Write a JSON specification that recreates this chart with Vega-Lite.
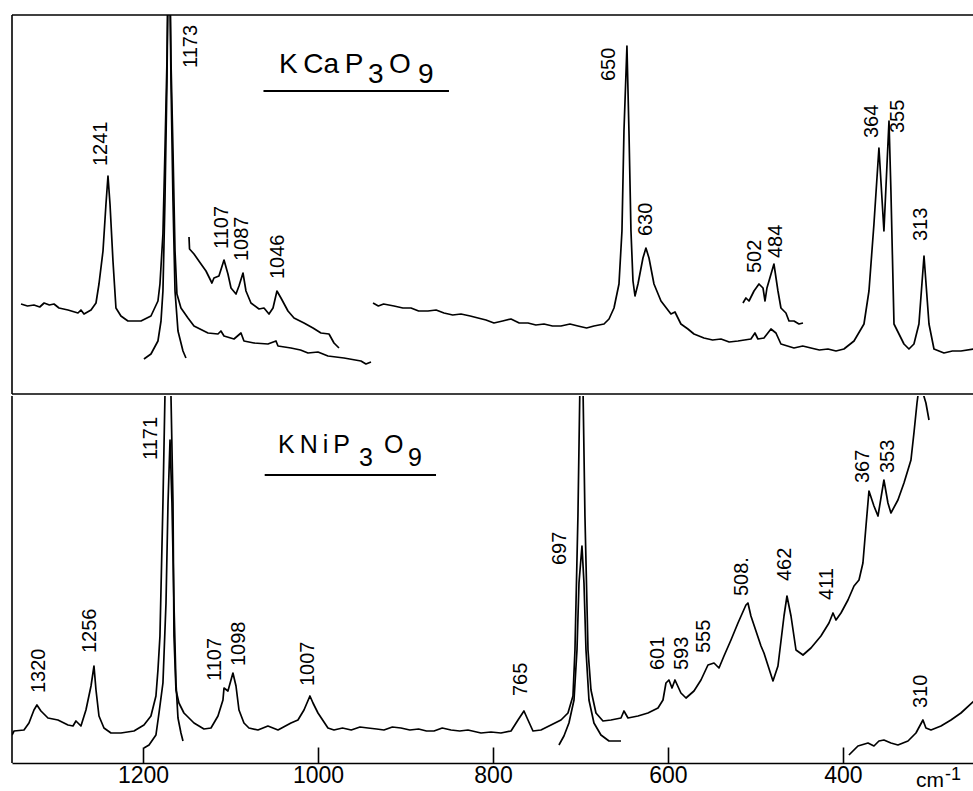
{
  "$schema": "https://vega.github.io/schema/vega-lite/v6.json",
  "background": "white",
  "padding": {"left": 11, "top": 14, "right": 0, "bottom": 0},
  "spacing": 0,
  "config": {"view": {"stroke": null}, "text": {"font": "Liberation Sans", "color": "black"}},
  "datasets": {
    "spectra": [
      {"panel":"top","trace":"T1","wn":1339.4,"int":90},{"panel":"top","trace":"T1","wn":1332,"int":88},{"panel":"top","trace":"T1","wn":1324.6,"int":89},{"panel":"top","trace":"T1","wn":1318,"int":87},{"panel":"top","trace":"T1","wn":1313,"int":91},{"panel":"top","trace":"T1","wn":1307,"int":89},{"panel":"top","trace":"T1","wn":1301.7,"int":90},{"panel":"top","trace":"T1","wn":1296.0,"int":86},{"panel":"top","trace":"T1","wn":1285.7,"int":84},{"panel":"top","trace":"T1","wn":1274.3,"int":81},{"panel":"top","trace":"T1","wn":1270.9,"int":84},{"panel":"top","trace":"T1","wn":1267.4,"int":80},{"panel":"top","trace":"T1","wn":1259.4,"int":84},{"panel":"top","trace":"T1","wn":1253.7,"int":91},{"panel":"top","trace":"T1","wn":1250.3,"int":110},{"panel":"top","trace":"T1","wn":1245.7,"int":143},{"panel":"top","trace":"T1","wn":1242.3,"int":190},{"panel":"top","trace":"T1","wn":1240.0,"int":218},{"panel":"top","trace":"T1","wn":1237.7,"int":190},{"panel":"top","trace":"T1","wn":1234.3,"int":133},{"panel":"top","trace":"T1","wn":1230.9,"int":86},{"panel":"top","trace":"T1","wn":1225.2,"int":78},{"panel":"top","trace":"T1","wn":1217.2,"int":73},{"panel":"top","trace":"T1","wn":1202.3,"int":73},{"panel":"top","trace":"T1","wn":1190.9,"int":78},{"panel":"top","trace":"T1","wn":1182.9,"int":93},{"panel":"top","trace":"T1","wn":1180.6,"int":110},{"panel":"top","trace":"T1","wn":1177.2,"int":160},{"panel":"top","trace":"T1","wn":1174.9,"int":243},{"panel":"top","trace":"T1","wn":1172.6,"int":333},{"panel":"top","trace":"T1","wn":1170.3,"int":493},{"panel":"top","trace":"T1","wn":1168.0,"int":333},{"panel":"top","trace":"T1","wn":1165.7,"int":243},{"panel":"top","trace":"T1","wn":1163.4,"int":143},{"panel":"top","trace":"T1","wn":1161.2,"int":100},{"panel":"top","trace":"T1","wn":1156.6,"int":86},{"panel":"top","trace":"T1","wn":1148.6,"int":76},{"panel":"top","trace":"T1","wn":1141.7,"int":68},{"panel":"top","trace":"T1","wn":1125.7,"int":61},{"panel":"top","trace":"T1","wn":1114.3,"int":60},{"panel":"top","trace":"T1","wn":1110.9,"int":63},{"panel":"top","trace":"T1","wn":1107.4,"int":58},{"panel":"top","trace":"T1","wn":1096.0,"int":55},{"panel":"top","trace":"T1","wn":1088.0,"int":61},{"panel":"top","trace":"T1","wn":1084.6,"int":53},{"panel":"top","trace":"T1","wn":1073.2,"int":51},{"panel":"top","trace":"T1","wn":1057.2,"int":50},{"panel":"top","trace":"T1","wn":1048.0,"int":53},{"panel":"top","trace":"T1","wn":1045.7,"int":48},{"panel":"top","trace":"T1","wn":1030.9,"int":46},{"panel":"top","trace":"T1","wn":1020,"int":44},{"panel":"top","trace":"T1","wn":1011.4,"int":41},{"panel":"top","trace":"T1","wn":1000,"int":42},{"panel":"top","trace":"T1","wn":988.6,"int":38},{"panel":"top","trace":"T1","wn":970.3,"int":36},{"panel":"top","trace":"T1","wn":950.9,"int":33},{"panel":"top","trace":"T1","wn":945.2,"int":30},{"panel":"top","trace":"T1","wn":939.4,"int":32},
      {"panel":"top","trace":"T2","wn":1198.9,"int":35},{"panel":"top","trace":"T2","wn":1190.9,"int":40},{"panel":"top","trace":"T2","wn":1182.9,"int":53},{"panel":"top","trace":"T2","wn":1179.4,"int":73},{"panel":"top","trace":"T2","wn":1177.2,"int":103},{"panel":"top","trace":"T2","wn":1174.9,"int":193},{"panel":"top","trace":"T2","wn":1172.6,"int":313},{"panel":"top","trace":"T2","wn":1170.3,"int":493},{"panel":"top","trace":"T2","wn":1168.0,"int":313},{"panel":"top","trace":"T2","wn":1165.7,"int":193},{"panel":"top","trace":"T2","wn":1163.4,"int":103},{"panel":"top","trace":"T2","wn":1160.0,"int":63},{"panel":"top","trace":"T2","wn":1154.3,"int":43},{"panel":"top","trace":"T2","wn":1150.9,"int":36},
      {"panel":"top","trace":"T3","wn":1147.4,"int":157},{"panel":"top","trace":"T3","wn":1146.8,"int":145},{"panel":"top","trace":"T3","wn":1141.7,"int":140},{"panel":"top","trace":"T3","wn":1133.7,"int":130},{"panel":"top","trace":"T3","wn":1128.0,"int":123},{"panel":"top","trace":"T3","wn":1121.2,"int":111},{"panel":"top","trace":"T3","wn":1118.9,"int":116},{"panel":"top","trace":"T3","wn":1113.2,"int":118},{"panel":"top","trace":"T3","wn":1107.4,"int":134},{"panel":"top","trace":"T3","wn":1102.9,"int":120},{"panel":"top","trace":"T3","wn":1099.4,"int":106},{"panel":"top","trace":"T3","wn":1093.7,"int":100},{"panel":"top","trace":"T3","wn":1090.3,"int":108},{"panel":"top","trace":"T3","wn":1085.7,"int":121},{"panel":"top","trace":"T3","wn":1082.3,"int":103},{"panel":"top","trace":"T3","wn":1076.6,"int":91},{"panel":"top","trace":"T3","wn":1067.4,"int":85},{"panel":"top","trace":"T3","wn":1061.7,"int":86},{"panel":"top","trace":"T3","wn":1056.0,"int":80},{"panel":"top","trace":"T3","wn":1051.4,"int":86},{"panel":"top","trace":"T3","wn":1046.9,"int":103},{"panel":"top","trace":"T3","wn":1042.3,"int":96},{"panel":"top","trace":"T3","wn":1034.3,"int":83},{"panel":"top","trace":"T3","wn":1027.4,"int":76},{"panel":"top","trace":"T3","wn":1016.0,"int":71},{"panel":"top","trace":"T3","wn":1005.7,"int":66},{"panel":"top","trace":"T3","wn":996.6,"int":61},{"panel":"top","trace":"T3","wn":987.4,"int":60},{"panel":"top","trace":"T3","wn":981.7,"int":51},{"panel":"top","trace":"T3","wn":976.0,"int":46},
      {"panel":"top","trace":"T4","wn":937.1,"int":91},{"panel":"top","trace":"T4","wn":931,"int":88},{"panel":"top","trace":"T4","wn":925,"int":90},{"panel":"top","trace":"T4","wn":913.1,"int":88},{"panel":"top","trace":"T4","wn":903,"int":86},{"panel":"top","trace":"T4","wn":893.7,"int":86},{"panel":"top","trace":"T4","wn":885,"int":83},{"panel":"top","trace":"T4","wn":874.3,"int":83},{"panel":"top","trace":"T4","wn":865,"int":84},{"panel":"top","trace":"T4","wn":856.0,"int":81},{"panel":"top","trace":"T4","wn":846,"int":79},{"panel":"top","trace":"T4","wn":836.6,"int":80},{"panel":"top","trace":"T4","wn":826,"int":78},{"panel":"top","trace":"T4","wn":817.1,"int":76},{"panel":"top","trace":"T4","wn":808,"int":74},{"panel":"top","trace":"T4","wn":798.9,"int":71},{"panel":"top","trace":"T4","wn":789,"int":73},{"panel":"top","trace":"T4","wn":779.4,"int":75},{"panel":"top","trace":"T4","wn":770,"int":71},{"panel":"top","trace":"T4","wn":760.0,"int":71},{"panel":"top","trace":"T4","wn":751,"int":69},{"panel":"top","trace":"T4","wn":741.7,"int":70},{"panel":"top","trace":"T4","wn":732,"int":68},{"panel":"top","trace":"T4","wn":722.3,"int":68},{"panel":"top","trace":"T4","wn":712,"int":70},{"panel":"top","trace":"T4","wn":702.9,"int":68},{"panel":"top","trace":"T4","wn":693,"int":66},{"panel":"top","trace":"T4","wn":684.6,"int":68},{"panel":"top","trace":"T4","wn":673.1,"int":70},{"panel":"top","trace":"T4","wn":667.4,"int":75},{"panel":"top","trace":"T4","wn":661.7,"int":86},{"panel":"top","trace":"T4","wn":656.0,"int":110},{"panel":"top","trace":"T4","wn":652.6,"int":163},{"panel":"top","trace":"T4","wn":650.3,"int":263},{"panel":"top","trace":"T4","wn":646.9,"int":348},{"panel":"top","trace":"T4","wn":644.6,"int":263},{"panel":"top","trace":"T4","wn":642.3,"int":163},{"panel":"top","trace":"T4","wn":640.0,"int":113},{"panel":"top","trace":"T4","wn":637.7,"int":98},{"panel":"top","trace":"T4","wn":634.3,"int":110},{"panel":"top","trace":"T4","wn":628.6,"int":136},{"panel":"top","trace":"T4","wn":625.2,"int":146},{"panel":"top","trace":"T4","wn":621.7,"int":136},{"panel":"top","trace":"T4","wn":616.0,"int":110},{"panel":"top","trace":"T4","wn":608.0,"int":93},{"panel":"top","trace":"T4","wn":596.6,"int":80},{"panel":"top","trace":"T4","wn":592,"int":82},{"panel":"top","trace":"T4","wn":585.2,"int":70},{"panel":"top","trace":"T4","wn":577.2,"int":65},{"panel":"top","trace":"T4","wn":570.3,"int":60},{"panel":"top","trace":"T4","wn":558.9,"int":56},{"panel":"top","trace":"T4","wn":549,"int":54},{"panel":"top","trace":"T4","wn":539.4,"int":55},{"panel":"top","trace":"T4","wn":530,"int":52},{"panel":"top","trace":"T4","wn":520.0,"int":53},{"panel":"top","trace":"T4","wn":505.2,"int":55},{"panel":"top","trace":"T4","wn":500.6,"int":61},{"panel":"top","trace":"T4","wn":497.2,"int":55},{"panel":"top","trace":"T4","wn":490.3,"int":56},{"panel":"top","trace":"T4","wn":482.3,"int":65},{"panel":"top","trace":"T4","wn":476.6,"int":61},{"panel":"top","trace":"T4","wn":470.9,"int":50},{"panel":"top","trace":"T4","wn":456.0,"int":46},{"panel":"top","trace":"T4","wn":446,"int":48},{"panel":"top","trace":"T4","wn":436.6,"int":46},{"panel":"top","trace":"T4","wn":427,"int":44},{"panel":"top","trace":"T4","wn":417.2,"int":45},{"panel":"top","trace":"T4","wn":408,"int":43},{"panel":"top","trace":"T4","wn":398.9,"int":45},{"panel":"top","trace":"T4","wn":387.4,"int":53},{"panel":"top","trace":"T4","wn":376.0,"int":70},{"panel":"top","trace":"T4","wn":370.3,"int":103},{"panel":"top","trace":"T4","wn":364.6,"int":170},{"panel":"top","trace":"T4","wn":358.9,"int":246},{"panel":"top","trace":"T4","wn":353.2,"int":163},{"panel":"top","trace":"T4","wn":347.4,"int":273},{"panel":"top","trace":"T4","wn":345.2,"int":203},{"panel":"top","trace":"T4","wn":341.7,"int":70},{"panel":"top","trace":"T4","wn":336.0,"int":60},{"panel":"top","trace":"T4","wn":330.3,"int":50},{"panel":"top","trace":"T4","wn":324.6,"int":45},{"panel":"top","trace":"T4","wn":318.9,"int":50},{"panel":"top","trace":"T4","wn":313.2,"int":70},{"panel":"top","trace":"T4","wn":307.4,"int":138},{"panel":"top","trace":"T4","wn":301.7,"int":70},{"panel":"top","trace":"T4","wn":296.0,"int":45},{"panel":"top","trace":"T4","wn":284.6,"int":41},{"panel":"top","trace":"T4","wn":275,"int":43},{"panel":"top","trace":"T4","wn":265.2,"int":43},{"panel":"top","trace":"T4","wn":250.3,"int":45},
      {"panel":"top","trace":"T5","wn":514.3,"int":91},{"panel":"top","trace":"T5","wn":510.9,"int":96},{"panel":"top","trace":"T5","wn":507.4,"int":93},{"panel":"top","trace":"T5","wn":501.7,"int":103},{"panel":"top","trace":"T5","wn":496.0,"int":110},{"panel":"top","trace":"T5","wn":491.4,"int":106},{"panel":"top","trace":"T5","wn":489.1,"int":93},{"panel":"top","trace":"T5","wn":486.9,"int":106},{"panel":"top","trace":"T5","wn":478.9,"int":130},{"panel":"top","trace":"T5","wn":474.3,"int":103},{"panel":"top","trace":"T5","wn":470.9,"int":86},{"panel":"top","trace":"T5","wn":465.2,"int":81},{"panel":"top","trace":"T5","wn":461.7,"int":73},{"panel":"top","trace":"T5","wn":456.0,"int":73},{"panel":"top","trace":"T5","wn":450.3,"int":70},{"panel":"top","trace":"T5","wn":445.7,"int":71},
      {"panel":"bottom","trace":"B1","wn":1349.7,"int":28},{"panel":"bottom","trace":"B1","wn":1347.4,"int":32},{"panel":"bottom","trace":"B1","wn":1336.0,"int":33},{"panel":"bottom","trace":"B1","wn":1330.3,"int":40},{"panel":"bottom","trace":"B1","wn":1324.6,"int":53},{"panel":"bottom","trace":"B1","wn":1321.2,"int":58},{"panel":"bottom","trace":"B1","wn":1316.6,"int":52},{"panel":"bottom","trace":"B1","wn":1308.6,"int":45},{"panel":"bottom","trace":"B1","wn":1297.2,"int":43},{"panel":"bottom","trace":"B1","wn":1285.7,"int":38},{"panel":"bottom","trace":"B1","wn":1280.0,"int":37},{"panel":"bottom","trace":"B1","wn":1276.6,"int":42},{"panel":"bottom","trace":"B1","wn":1270.9,"int":37},{"panel":"bottom","trace":"B1","wn":1265.2,"int":53},{"panel":"bottom","trace":"B1","wn":1259.4,"int":77},{"panel":"bottom","trace":"B1","wn":1256.0,"int":97},{"panel":"bottom","trace":"B1","wn":1253.7,"int":73},{"panel":"bottom","trace":"B1","wn":1250.3,"int":47},{"panel":"bottom","trace":"B1","wn":1244.6,"int":35},{"panel":"bottom","trace":"B1","wn":1236.6,"int":30},{"panel":"bottom","trace":"B1","wn":1225.2,"int":30},{"panel":"bottom","trace":"B1","wn":1210.3,"int":32},{"panel":"bottom","trace":"B1","wn":1198.9,"int":38},{"panel":"bottom","trace":"B1","wn":1190.9,"int":47},{"panel":"bottom","trace":"B1","wn":1185.2,"int":67},{"panel":"bottom","trace":"B1","wn":1182.9,"int":93},{"panel":"bottom","trace":"B1","wn":1180.6,"int":127},{"panel":"bottom","trace":"B1","wn":1177.2,"int":260},{"panel":"bottom","trace":"B1","wn":1174.9,"int":367},{"panel":"bottom","trace":"B1","wn":1171.4,"int":560},{"panel":"bottom","trace":"B1","wn":1168.0,"int":367},{"panel":"bottom","trace":"B1","wn":1165.7,"int":260},{"panel":"bottom","trace":"B1","wn":1164.6,"int":127},{"panel":"bottom","trace":"B1","wn":1162.3,"int":73},{"panel":"bottom","trace":"B1","wn":1158.9,"int":60},{"panel":"bottom","trace":"B1","wn":1153.2,"int":50},{"panel":"bottom","trace":"B1","wn":1141.7,"int":40},{"panel":"bottom","trace":"B1","wn":1130.3,"int":34},{"panel":"bottom","trace":"B1","wn":1122.3,"int":35},{"panel":"bottom","trace":"B1","wn":1114.3,"int":47},{"panel":"bottom","trace":"B1","wn":1108.6,"int":63},{"panel":"bottom","trace":"B1","wn":1107.4,"int":75},{"panel":"bottom","trace":"B1","wn":1102.9,"int":72},{"panel":"bottom","trace":"B1","wn":1097.2,"int":90},{"panel":"bottom","trace":"B1","wn":1093.7,"int":77},{"panel":"bottom","trace":"B1","wn":1090.3,"int":53},{"panel":"bottom","trace":"B1","wn":1084.6,"int":40},{"panel":"bottom","trace":"B1","wn":1078.9,"int":35},{"panel":"bottom","trace":"B1","wn":1068.6,"int":33},{"panel":"bottom","trace":"B1","wn":1057.2,"int":37},{"panel":"bottom","trace":"B1","wn":1045.7,"int":33},{"panel":"bottom","trace":"B1","wn":1030.9,"int":40},{"panel":"bottom","trace":"B1","wn":1022.9,"int":43},{"panel":"bottom","trace":"B1","wn":1016.0,"int":53},{"panel":"bottom","trace":"B1","wn":1009.2,"int":67},{"panel":"bottom","trace":"B1","wn":1005.7,"int":60},{"panel":"bottom","trace":"B1","wn":1000.0,"int":50},{"panel":"bottom","trace":"B1","wn":988.6,"int":35},{"panel":"bottom","trace":"B1","wn":981.7,"int":33},{"panel":"bottom","trace":"B1","wn":972,"int":35},{"panel":"bottom","trace":"B1","wn":962,"int":33},{"panel":"bottom","trace":"B1","wn":952,"int":36},{"panel":"bottom","trace":"B1","wn":942.9,"int":35},{"panel":"bottom","trace":"B1","wn":933,"int":34},{"panel":"bottom","trace":"B1","wn":924.6,"int":33},{"panel":"bottom","trace":"B1","wn":915,"int":36},{"panel":"bottom","trace":"B1","wn":905.2,"int":35},{"panel":"bottom","trace":"B1","wn":895,"int":33},{"panel":"bottom","trace":"B1","wn":885,"int":34},{"panel":"bottom","trace":"B1","wn":876,"int":32},{"panel":"bottom","trace":"B1","wn":867.4,"int":32},{"panel":"bottom","trace":"B1","wn":858,"int":35},{"panel":"bottom","trace":"B1","wn":848,"int":33},{"panel":"bottom","trace":"B1","wn":838,"int":32},{"panel":"bottom","trace":"B1","wn":828.6,"int":33},{"panel":"bottom","trace":"B1","wn":813.7,"int":30},{"panel":"bottom","trace":"B1","wn":802.3,"int":31},{"panel":"bottom","trace":"B1","wn":790.9,"int":30},{"panel":"bottom","trace":"B1","wn":779.4,"int":32},{"panel":"bottom","trace":"B1","wn":771.4,"int":43},{"panel":"bottom","trace":"B1","wn":764.6,"int":52},{"panel":"bottom","trace":"B1","wn":760.0,"int":43},{"panel":"bottom","trace":"B1","wn":754.3,"int":32},{"panel":"bottom","trace":"B1","wn":745.2,"int":33},{"panel":"bottom","trace":"B1","wn":733.7,"int":38},{"panel":"bottom","trace":"B1","wn":722.3,"int":43},{"panel":"bottom","trace":"B1","wn":714.3,"int":50},{"panel":"bottom","trace":"B1","wn":708.6,"int":67},{"panel":"bottom","trace":"B1","wn":706.3,"int":113},{"panel":"bottom","trace":"B1","wn":702.9,"int":247},{"panel":"bottom","trace":"B1","wn":700.6,"int":380},{"panel":"bottom","trace":"B1","wn":699.0,"int":420},{"panel":"bottom","trace":"B1","wn":697.2,"int":380},{"panel":"bottom","trace":"B1","wn":694.9,"int":247},{"panel":"bottom","trace":"B1","wn":691.4,"int":113},{"panel":"bottom","trace":"B1","wn":688.0,"int":73},{"panel":"bottom","trace":"B1","wn":682.3,"int":50},{"panel":"bottom","trace":"B1","wn":674.3,"int":42},{"panel":"bottom","trace":"B1","wn":665.2,"int":43},{"panel":"bottom","trace":"B1","wn":653.7,"int":45},{"panel":"bottom","trace":"B1","wn":650.3,"int":52},{"panel":"bottom","trace":"B1","wn":645.7,"int":45},{"panel":"bottom","trace":"B1","wn":634.3,"int":47},{"panel":"bottom","trace":"B1","wn":622.9,"int":50},{"panel":"bottom","trace":"B1","wn":611.4,"int":55},{"panel":"bottom","trace":"B1","wn":605.7,"int":63},{"panel":"bottom","trace":"B1","wn":602.3,"int":80},{"panel":"bottom","trace":"B1","wn":598.9,"int":83},{"panel":"bottom","trace":"B1","wn":595.4,"int":75},{"panel":"bottom","trace":"B1","wn":592.0,"int":83},{"panel":"bottom","trace":"B1","wn":585.2,"int":70},{"panel":"bottom","trace":"B1","wn":579.4,"int":65},{"panel":"bottom","trace":"B1","wn":570.3,"int":72},{"panel":"bottom","trace":"B1","wn":562.3,"int":83},{"panel":"bottom","trace":"B1","wn":554.3,"int":98},{"panel":"bottom","trace":"B1","wn":547.4,"int":100},{"panel":"bottom","trace":"B1","wn":541.7,"int":95},{"panel":"bottom","trace":"B1","wn":536.0,"int":107},{"panel":"bottom","trace":"B1","wn":528.0,"int":123},{"panel":"bottom","trace":"B1","wn":520.0,"int":140},{"panel":"bottom","trace":"B1","wn":510.9,"int":158},{"panel":"bottom","trace":"B1","wn":508.6,"int":160},{"panel":"bottom","trace":"B1","wn":505.2,"int":147},{"panel":"bottom","trace":"B1","wn":493.7,"int":117},{"panel":"bottom","trace":"B1","wn":490.3,"int":110},{"panel":"bottom","trace":"B1","wn":480.0,"int":82},{"panel":"bottom","trace":"B1","wn":474.3,"int":97},{"panel":"bottom","trace":"B1","wn":467.4,"int":147},{"panel":"bottom","trace":"B1","wn":464.0,"int":167},{"panel":"bottom","trace":"B1","wn":459.4,"int":147},{"panel":"bottom","trace":"B1","wn":453.7,"int":113},{"panel":"bottom","trace":"B1","wn":445.7,"int":108},{"panel":"bottom","trace":"B1","wn":436.6,"int":115},{"panel":"bottom","trace":"B1","wn":425.2,"int":127},{"panel":"bottom","trace":"B1","wn":416.0,"int":140},{"panel":"bottom","trace":"B1","wn":411.4,"int":150},{"panel":"bottom","trace":"B1","wn":408.0,"int":143},{"panel":"bottom","trace":"B1","wn":402.3,"int":150},{"panel":"bottom","trace":"B1","wn":394.3,"int":163},{"panel":"bottom","trace":"B1","wn":387.4,"int":177},{"panel":"bottom","trace":"B1","wn":381.7,"int":183},{"panel":"bottom","trace":"B1","wn":377.2,"int":200},{"panel":"bottom","trace":"B1","wn":373.7,"int":237},{"panel":"bottom","trace":"B1","wn":370.3,"int":272},{"panel":"bottom","trace":"B1","wn":364.6,"int":257},{"panel":"bottom","trace":"B1","wn":360.0,"int":247},{"panel":"bottom","trace":"B1","wn":353.2,"int":283},{"panel":"bottom","trace":"B1","wn":348.6,"int":260},{"panel":"bottom","trace":"B1","wn":345.2,"int":250},{"panel":"bottom","trace":"B1","wn":337.2,"int":263},{"panel":"bottom","trace":"B1","wn":330.3,"int":280},{"panel":"bottom","trace":"B1","wn":322.3,"int":303},{"panel":"bottom","trace":"B1","wn":318.9,"int":330},{"panel":"bottom","trace":"B1","wn":315.4,"int":360},{"panel":"bottom","trace":"B1","wn":313.2,"int":375},{"panel":"bottom","trace":"B1","wn":308.6,"int":370},{"panel":"bottom","trace":"B1","wn":305.2,"int":360},{"panel":"bottom","trace":"B1","wn":301.7,"int":343},
      {"panel":"bottom","trace":"B2","wn":1198.9,"int":15},{"panel":"bottom","trace":"B2","wn":1193.1,"int":18},{"panel":"bottom","trace":"B2","wn":1185.2,"int":28},{"panel":"bottom","trace":"B2","wn":1181.7,"int":50},{"panel":"bottom","trace":"B2","wn":1177.2,"int":80},{"panel":"bottom","trace":"B2","wn":1173.7,"int":160},{"panel":"bottom","trace":"B2","wn":1171.4,"int":260},{"panel":"bottom","trace":"B2","wn":1169.1,"int":323},{"panel":"bottom","trace":"B2","wn":1166.9,"int":260},{"panel":"bottom","trace":"B2","wn":1164.6,"int":160},{"panel":"bottom","trace":"B2","wn":1162.3,"int":80},{"panel":"bottom","trace":"B2","wn":1160.0,"int":45},{"panel":"bottom","trace":"B2","wn":1156.6,"int":30},{"panel":"bottom","trace":"B2","wn":1154.3,"int":22},
      {"panel":"bottom","trace":"B3","wn":724.6,"int":18},{"panel":"bottom","trace":"B3","wn":718.9,"int":27},{"panel":"bottom","trace":"B3","wn":713.2,"int":40},{"panel":"bottom","trace":"B3","wn":707.4,"int":63},{"panel":"bottom","trace":"B3","wn":704.0,"int":113},{"panel":"bottom","trace":"B3","wn":701.7,"int":180},{"panel":"bottom","trace":"B3","wn":698.3,"int":217},{"panel":"bottom","trace":"B3","wn":696.0,"int":180},{"panel":"bottom","trace":"B3","wn":693.7,"int":113},{"panel":"bottom","trace":"B3","wn":690.3,"int":63},{"panel":"bottom","trace":"B3","wn":684.6,"int":40},{"panel":"bottom","trace":"B3","wn":676.6,"int":28},{"panel":"bottom","trace":"B3","wn":667.4,"int":22},{"panel":"bottom","trace":"B3","wn":653.7,"int":22},
      {"panel":"bottom","trace":"B4","wn":393.2,"int":8},{"panel":"bottom","trace":"B4","wn":382.9,"int":17},{"panel":"bottom","trace":"B4","wn":371.4,"int":20},{"panel":"bottom","trace":"B4","wn":364.6,"int":17},{"panel":"bottom","trace":"B4","wn":358.9,"int":22},{"panel":"bottom","trace":"B4","wn":353.2,"int":23},{"panel":"bottom","trace":"B4","wn":345.2,"int":20},{"panel":"bottom","trace":"B4","wn":337.2,"int":18},{"panel":"bottom","trace":"B4","wn":325.7,"int":22},{"panel":"bottom","trace":"B4","wn":316.6,"int":30},{"panel":"bottom","trace":"B4","wn":308.6,"int":43},{"panel":"bottom","trace":"B4","wn":305.2,"int":35},{"panel":"bottom","trace":"B4","wn":299.4,"int":33},{"panel":"bottom","trace":"B4","wn":288.0,"int":37},{"panel":"bottom","trace":"B4","wn":276.6,"int":43},{"panel":"bottom","trace":"B4","wn":265.2,"int":50},{"panel":"bottom","trace":"B4","wn":250.3,"int":62}
    ],
    "labels": [
      {"panel":"top","label":"1173","wn":1145.1,"int":326},{"panel":"top","label":"1241","wn":1248.0,"int":228},{"panel":"top","label":"1107","wn":1109.7,"int":145},{"panel":"top","label":"1087","wn":1086.9,"int":133},{"panel":"top","label":"1046","wn":1045.7,"int":115},{"panel":"top","label":"650","wn":667.4,"int":313},{"panel":"top","label":"630","wn":625.1,"int":158},{"panel":"top","label":"502","wn":500.6,"int":121},{"panel":"top","label":"484","wn":476.6,"int":136},{"panel":"top","label":"364","wn":366.9,"int":256},{"panel":"top","label":"355","wn":337.1,"int":261},{"panel":"top","label":"313","wn":310.9,"int":153},
      {"panel":"bottom","label":"1171","wn":1190.9,"int":303},{"panel":"bottom","label":"1320","wn":1318.9,"int":70},{"panel":"bottom","label":"1256","wn":1260.6,"int":110},{"panel":"bottom","label":"1107","wn":1117.7,"int":82},{"panel":"bottom","label":"1098","wn":1090.3,"int":97},{"panel":"bottom","label":"1007","wn":1011.4,"int":77},{"panel":"bottom","label":"765","wn":768.0,"int":67},{"panel":"bottom","label":"697","wn":723.4,"int":198},{"panel":"bottom","label":"601","wn":611.4,"int":93},{"panel":"bottom","label":"593","wn":584.0,"int":93},{"panel":"bottom","label":"555","wn":558.9,"int":110},{"panel":"bottom","label":"508.","wn":515.4,"int":167},{"panel":"bottom","label":"462","wn":466.3,"int":182},{"panel":"bottom","label":"411","wn":418.3,"int":163},{"panel":"bottom","label":"367","wn":377.1,"int":280},{"panel":"bottom","label":"353","wn":348.6,"int":290},{"panel":"bottom","label":"310","wn":310.9,"int":55}
    ]
  },
  "vconcat": [
    {
      "width": 961,
      "height": 379,
      "layer": [
        {
          "data": {"name": "spectra"},
          "transform": [{"filter": "datum.panel == 'top'"}],
          "mark": {"type": "line", "clip": true, "color": "black", "strokeWidth": 1.7, "strokeJoin": "round"},
          "encoding": {
            "x": {"field": "wn", "type": "quantitative", "scale": {"domain": [251.4, 1349.7], "reverse": true, "nice": false, "zero": false}, "axis": null},
            "y": {"field": "int", "type": "quantitative", "scale": {"domain": [0, 379], "nice": false, "zero": false}, "axis": null},
            "detail": {"field": "trace"}
          }
        },
        {
          "data": {"name": "labels"},
          "transform": [{"filter": "datum.panel == 'top'"}],
          "mark": {"type": "text", "angle": 270, "align": "left", "baseline": "middle", "fontSize": 20},
          "encoding": {
            "x": {"field": "wn", "type": "quantitative", "axis": null},
            "y": {"field": "int", "type": "quantitative", "axis": null},
            "text": {"field": "label"}
          }
        },
        {
          "data": {"values": [{}]},
          "mark": {"type": "text", "align": "left", "baseline": "alphabetic", "fontSize": 28, "text": "K\u2009Ca\u2009P"},
          "encoding": {"x": {"datum": 1044.6, "type": "quantitative", "axis": null}, "y": {"datum": 321, "type": "quantitative", "axis": null}}
        },
        {
          "data": {"values": [{}]},
          "mark": {"type": "text", "align": "left", "baseline": "alphabetic", "fontSize": 28, "text": "3"},
          "encoding": {"x": {"datum": 942.9, "type": "quantitative", "axis": null}, "y": {"datum": 311, "type": "quantitative", "axis": null}}
        },
        {
          "data": {"values": [{}]},
          "mark": {"type": "text", "align": "left", "baseline": "alphabetic", "fontSize": 28, "text": "O"},
          "encoding": {"x": {"datum": 918.9, "type": "quantitative", "axis": null}, "y": {"datum": 321, "type": "quantitative", "axis": null}}
        },
        {
          "data": {"values": [{}]},
          "mark": {"type": "text", "align": "left", "baseline": "alphabetic", "fontSize": 28, "text": "9"},
          "encoding": {"x": {"datum": 885.7, "type": "quantitative", "axis": null}, "y": {"datum": 311, "type": "quantitative", "axis": null}}
        },
        {
          "data": {"values": [{}]},
          "mark": {"type": "rule", "color": "black", "strokeWidth": 2},
          "encoding": {"x": {"datum": 1062.3, "type": "quantitative", "axis": null}, "x2": {"datum": 850.3}, "y": {"datum": 303, "type": "quantitative", "axis": null}}
        },
        {
          "data": {"values": [{}]},
          "mark": {"type": "rule", "color": "black", "strokeWidth": 1.6},
          "encoding": {"y": {"datum": 379, "type": "quantitative", "axis": null}}
        },
        {
          "data": {"values": [{}]},
          "mark": {"type": "rule", "color": "black", "strokeWidth": 1.6},
          "encoding": {"y": {"datum": 0, "type": "quantitative", "axis": null}}
        },
        {
          "data": {"values": [{}]},
          "mark": {"type": "rule", "color": "black", "strokeWidth": 1.6},
          "encoding": {"x": {"datum": 1349.7, "type": "quantitative", "axis": null}}
        }
      ]
    },
    {
      "width": 961,
      "height": 367,
      "encoding": {
        "x": {
          "type": "quantitative",
          "scale": {"domain": [251.4, 1349.7], "reverse": true, "nice": false, "zero": false},
          "axis": {
            "values": [1200, 1000, 800, 600, 400],
            "format": "d",
            "grid": false,
            "domain": true, "domainColor": "black", "domainWidth": 1.6,
            "ticks": true, "tickSize": -16, "tickColor": "black", "tickWidth": 1.6,
            "labelFont": "Liberation Sans", "labelFontSize": 23, "labelColor": "black", "labelPadding": 17,
            "title": null
          }
        },
        "y": {"type": "quantitative", "scale": {"domain": [0, 367], "nice": false, "zero": false}, "axis": null}
      },
      "layer": [
        {
          "data": {"name": "spectra"},
          "transform": [{"filter": "datum.panel == 'bottom'"}],
          "mark": {"type": "line", "clip": true, "color": "black", "strokeWidth": 1.7, "strokeJoin": "round"},
          "encoding": {
            "x": {"field": "wn"},
            "y": {"field": "int"},
            "detail": {"field": "trace"}
          }
        },
        {
          "data": {"name": "labels"},
          "transform": [{"filter": "datum.panel == 'bottom'"}],
          "mark": {"type": "text", "angle": 270, "align": "left", "baseline": "middle", "fontSize": 20},
          "encoding": {
            "x": {"field": "wn"},
            "y": {"field": "int"},
            "text": {"field": "label"}
          }
        },
        {
          "data": {"values": [{}]},
          "mark": {"type": "text", "align": "left", "baseline": "alphabetic", "fontSize": 25, "text": "K\u2009N\u2009i\u2009P"},
          "encoding": {"x": {"datum": 1045.7}, "y": {"datum": 310}}
        },
        {
          "data": {"values": [{}]},
          "mark": {"type": "text", "align": "left", "baseline": "alphabetic", "fontSize": 25, "text": "3"},
          "encoding": {"x": {"datum": 953.1}, "y": {"datum": 297}}
        },
        {
          "data": {"values": [{}]},
          "mark": {"type": "text", "align": "left", "baseline": "alphabetic", "fontSize": 25, "text": "O"},
          "encoding": {"x": {"datum": 924.6}, "y": {"datum": 310}}
        },
        {
          "data": {"values": [{}]},
          "mark": {"type": "text", "align": "left", "baseline": "alphabetic", "fontSize": 25, "text": "9"},
          "encoding": {"x": {"datum": 897.1}, "y": {"datum": 297}}
        },
        {
          "data": {"values": [{}]},
          "mark": {"type": "text", "align": "left", "baseline": "alphabetic", "fontSize": 21, "text": "cm"},
          "encoding": {"x": {"datum": 316.6}, "y": {"datum": -24}}
        },
        {
          "data": {"values": [{}]},
          "mark": {"type": "text", "align": "left", "baseline": "alphabetic", "fontSize": 18, "text": "-1"},
          "encoding": {"x": {"datum": 283.4}, "y": {"datum": -17}}
        },
        {
          "data": {"values": [{}]},
          "mark": {"type": "rule", "color": "black", "strokeWidth": 2},
          "encoding": {"x": {"datum": 1060.9}, "x2": {"datum": 865.1}, "y": {"datum": 288}}
        },
        {
          "data": {"values": [{}]},
          "mark": {"type": "rule", "color": "black", "strokeWidth": 1.6},
          "encoding": {"x": {"datum": 1349.7}, "y": null}
        }
      ]
    }
  ]
}
